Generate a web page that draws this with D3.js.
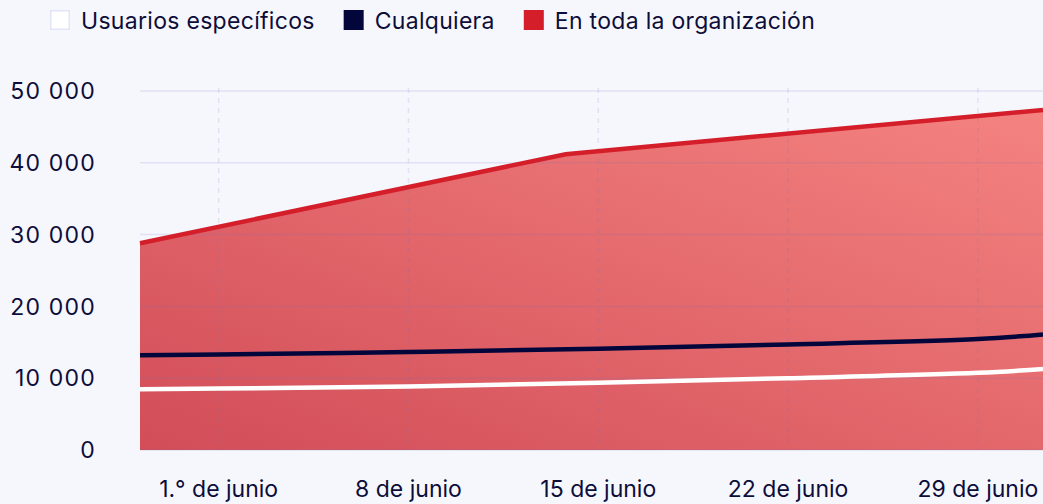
<!DOCTYPE html>
<html>
<head>
<meta charset="utf-8">
<script src="https://cdn.jsdelivr.net/npm/d3@7"></script>
<style>
  body { margin: 0; background: #f6f7fd; }
  svg { display: block; font-family: Inter, "Noto Sans", sans-serif; }
</style>
</head>
<body>
<script>
// datos (días contados desde el 1 de junio)
var tickDias = [0, 7, 14, 21, 28];
var tickEtiquetas = ["1.° de junio", "8 de junio", "15 de junio", "22 de junio", "29 de junio"];
var yTicks = [0, 10000, 20000, 30000, 40000, 50000];

var diasOrg = [-2.9, 12.8, 30.4];
var valoresOrg = [28800, 41200, 47350];

var diasLineas = [-2.9, 0, 7, 14, 21, 28, 30.4];
var valoresCualquiera = [13200, 13300, 13650, 14100, 14700, 15450, 16100];
var valoresUsuarios = [8450, 8550, 8850, 9350, 10000, 10750, 11280];

var series = ["Usuarios específicos", "Cualquiera", "En toda la organización"];
var colores = ["#ffffff", "#03063a", "#d41f2b"];

var width = 1043, height = 504;
var textColor = "#0d0d3a";

var svg = d3.select("body").append("svg")
    .attr("width", width)
    .attr("height", height);

svg.append("rect").attr("width", width).attr("height", height).attr("fill", "#f6f7fd");

var x = d3.scaleLinear().domain([-2.9, 30.4]).range([140, 1043]);
var y = d3.scaleLinear().domain([0, 50000]).range([450, 91]);

var fmt = d3.formatLocale({decimal: ",", thousands: " ", grouping: [3], currency: ["", ""]}).format(",");

// gradiente del área
var defs = svg.append("defs");
var grad = defs.append("linearGradient").attr("id", "gradOrg")
    .attr("x1", 0).attr("y1", 1).attr("x2", 1).attr("y2", 0);
grad.append("stop").attr("offset", "0%").attr("stop-color", "#d24d58");
grad.append("stop").attr("offset", "100%").attr("stop-color", "#f48380");

var org = diasOrg.map(function(d, i) { return {d: d, v: valoresOrg[i]}; });
var cual = diasLineas.map(function(d, i) { return {d: d, v: valoresCualquiera[i]}; });
var usu = diasLineas.map(function(d, i) { return {d: d, v: valoresUsuarios[i]}; });

var area = d3.area()
    .x(function(d) { return x(d.d); })
    .y0(y(0))
    .y1(function(d) { return y(d.v); });

svg.append("path").datum(org)
    .attr("d", area)
    .attr("fill", "url(#gradOrg)");

// rejilla
var grid = svg.append("g");
grid.selectAll("line.h")
    .data(yTicks)
    .enter().append("line")
    .attr("class", "h")
    .attr("x1", 140).attr("x2", width)
    .attr("y1", function(d) { return y(d); })
    .attr("y2", function(d) { return y(d); })
    .attr("stroke", "rgba(110,110,185,0.16)")
    .attr("stroke-width", 1.5);

grid.selectAll("line.v")
    .data(tickDias)
    .enter().append("line")
    .attr("class", "v")
    .attr("x1", function(d) { return x(d); })
    .attr("x2", function(d) { return x(d); })
    .attr("y1", y(50000) - 3).attr("y2", y(0))
    .attr("stroke", "rgba(110,110,185,0.16)")
    .attr("stroke-width", 1.5)
    .attr("stroke-dasharray", "5,5");

var line = d3.line()
    .x(function(d) { return x(d.d); })
    .y(function(d) { return y(d.v); });

var curva = d3.line()
    .curve(d3.curveCatmullRom)
    .x(function(d) { return x(d.d); })
    .y(function(d) { return y(d.v); });

svg.append("path").datum(org)
    .attr("d", line)
    .attr("fill", "none")
    .attr("stroke", colores[2])
    .attr("stroke-width", 4.5);

svg.append("path").datum(cual)
    .attr("d", curva)
    .attr("fill", "none")
    .attr("stroke", colores[1])
    .attr("stroke-width", 4.5);

svg.append("path").datum(usu)
    .attr("d", curva)
    .attr("fill", "none")
    .attr("stroke", colores[0])
    .attr("stroke-width", 4.5);

// ejes
svg.append("g").selectAll("text")
    .data(yTicks)
    .enter().append("text")
    .attr("x", 96)
    .attr("y", function(d) { return y(d); })
    .attr("dy", "0.36em")
    .attr("text-anchor", "end")
    .attr("fill", textColor)
    .style("font-size", "23px")
    .style("letter-spacing", "1.2px")
    .text(function(d) { return fmt(d); });

svg.append("g").selectAll("text")
    .data(tickDias)
    .enter().append("text")
    .attr("x", function(d) { return x(d); })
    .attr("y", 497)
    .attr("text-anchor", "middle")
    .attr("fill", textColor)
    .style("font-size", "23px")
    .text(function(d, i) { return tickEtiquetas[i]; });

// leyenda
var leg = svg.append("g");
var lx = 50;
series.forEach(function(s, i) {
    leg.append("rect")
        .attr("x", lx + 0.75).attr("y", 10.75)
        .attr("width", 18.5).attr("height", 18.5)
        .attr("fill", colores[i])
        .attr("stroke", i == 0 ? "#e2e5f5" : colores[i])
        .attr("stroke-width", 1.5);
    var t = leg.append("text")
        .attr("x", lx + 31)
        .attr("y", 29)
        .attr("fill", textColor)
        .style("font-size", "23px")
        .style("letter-spacing", "0.3px")
        .text(s);
    lx = lx + 31 + t.node().getComputedTextLength() + 29;
});
</script>
</body>
</html>
